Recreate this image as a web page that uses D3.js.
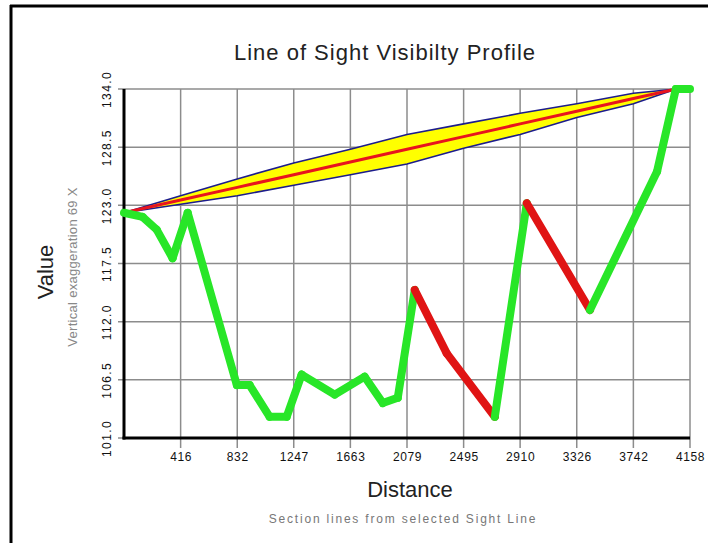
<!DOCTYPE html>
<html>
<head>
<meta charset="utf-8">
<script src="https://cdn.jsdelivr.net/npm/d3@7/dist/d3.min.js"></script>
<style>
  html, body { margin: 0; padding: 0; background: #fff; }
  svg { display: block; }
</style>
</head>
<body>
<svg id="chart" width="708" height="543"></svg>
<script>
// Tick labels
const xTickValues = [416, 832, 1247, 1663, 2079, 2495, 2910, 3326, 3742, 4158];
const yTickValues = [101.0, 106.5, 112.0, 117.5, 123.0, 128.5, 134.0];

// Ground profile along the sight line (distance, elevation)
const terrainDist = [0, 137, 240, 357, 468, 829, 923, 1070, 1195, 1305, 1548, 1768, 1901, 2011, 2136, 2371, 2724, 2959, 3423, 3916, 4054, 4158];
const terrainElev = [122.3, 121.9, 120.7, 118.0, 122.3, 106.0, 106.0, 103.0, 103.0, 107.0, 105.1, 106.8, 104.3, 104.8, 115.0, 109.0, 103.0, 123.2, 113.1, 126.2, 134.0, 134.0];
// Whether each segment (point i to i+1) is visible from the observer
const segmentVisible = [true, true, true, true, true, true, true, true, true, true, true, true, true, true, false, false, true, false, true, true, true];

// Sight line and its tolerance band
const sightDist  = [0, 416, 832, 1247, 1663, 2079, 2495, 2910, 3326, 3742, 4058];
const sightElev  = [122.3, 123.5, 124.7, 125.9, 127.1, 128.3, 129.5, 130.7, 131.9, 133.1, 134.0];
const sightUpper = [122.3, 123.9, 125.5, 127.0, 128.3, 129.7, 130.7, 131.7, 132.6, 133.6, 134.0];
const sightLower = [122.3, 123.1, 123.9, 124.9, 125.9, 126.9, 128.4, 129.7, 131.3, 132.6, 134.0];

const svg = d3.select("#chart");
const W = 708, H = 543;
const plot = { left: 124, right: 690, top: 89, bottom: 438 };
const FONT = "Liberation Sans, Arial, sans-serif";

const x = d3.scaleLinear().domain([0, 4158]).range([plot.left, plot.right]);
const y = d3.scaleLinear().domain([101, 134]).range([plot.bottom, plot.top]);

// Window frame (left and top edges)
svg.append("line").attr("x1", 11).attr("x2", 11).attr("y1", 5).attr("y2", H)
  .attr("stroke", "#000").attr("stroke-width", 3);
svg.append("line").attr("x1", 10).attr("x2", W).attr("y1", 6).attr("y2", 6)
  .attr("stroke", "#000").attr("stroke-width", 3);

// Title
svg.append("text").attr("x", 385).attr("y", 60).attr("text-anchor", "middle")
  .attr("font-family", FONT).attr("font-size", 22).attr("letter-spacing", 1)
  .attr("fill", "#222").text("Line of Sight Visibilty Profile");

// Grid
const grid = svg.append("g").attr("stroke", "#8c8c8c").attr("stroke-width", 1.5);
grid.selectAll("line.v").data(xTickValues).join("line")
  .attr("x1", d => x(d)).attr("x2", d => x(d))
  .attr("y1", plot.top).attr("y2", plot.bottom + 10);
grid.selectAll("line.h").data(yTickValues).join("line")
  .attr("x1", plot.left - 6).attr("x2", plot.right)
  .attr("y1", d => y(d)).attr("y2", d => y(d));

// Axes
const xAxis = d3.axisBottom(x).tickValues(xTickValues).tickSize(0).tickPadding(14)
  .tickFormat(d => String(d));
const gx = svg.append("g").attr("transform", `translate(0,${plot.bottom})`).call(xAxis);
gx.select(".domain").remove();
gx.selectAll("text").attr("font-family", FONT)
  .attr("font-size", 12).attr("letter-spacing", 0.6).attr("fill", "#111");

const yAxis = d3.axisLeft(y).tickValues(yTickValues).tickSize(0).tickFormat(d3.format(".1f"));
const gy = svg.append("g").attr("transform", `translate(${plot.left},0)`).call(yAxis);
gy.select(".domain").remove();
gy.selectAll("text")
  .attr("font-family", FONT).attr("font-size", 12).attr("letter-spacing", 1.4)
  .attr("fill", "#111").attr("text-anchor", "middle")
  .attr("x", 0).attr("dy", 0)
  .attr("transform", "translate(-17,0) rotate(-90)")
  .attr("dominant-baseline", "central");

// Axis lines
svg.append("line").attr("x1", plot.left).attr("x2", plot.left)
  .attr("y1", plot.top).attr("y2", plot.bottom + 1.5).attr("stroke", "#000").attr("stroke-width", 3);
svg.append("line").attr("x1", plot.left - 1.5).attr("x2", plot.right)
  .attr("y1", plot.bottom).attr("y2", plot.bottom).attr("stroke", "#000").attr("stroke-width", 3);

// Tolerance band
const bandIdx = d3.range(sightDist.length);
svg.append("path").datum(bandIdx)
  .attr("d", d3.area().x(i => x(sightDist[i])).y0(i => y(sightLower[i])).y1(i => y(sightUpper[i])))
  .attr("fill", "#ffff00");
[sightUpper, sightLower].forEach(arr => {
  svg.append("path").datum(bandIdx)
    .attr("d", d3.line().x(i => x(sightDist[i])).y(i => y(arr[i])))
    .attr("fill", "none").attr("stroke", "#1c1c8c").attr("stroke-width", 1.6);
});
svg.append("path").datum(bandIdx)
  .attr("d", d3.line().x(i => x(sightDist[i])).y(i => y(sightElev[i])))
  .attr("fill", "none").attr("stroke", "#e8141e").attr("stroke-width", 3);

// Ground profile, coloured by visibility
const segs = d3.range(terrainDist.length - 1);
svg.append("g").selectAll("line").data(segs).join("line")
  .attr("x1", i => x(terrainDist[i])).attr("y1", i => y(terrainElev[i]))
  .attr("x2", i => x(terrainDist[i + 1])).attr("y2", i => y(terrainElev[i + 1]))
  .attr("stroke", i => segmentVisible[i] ? "#28e628" : "#e01414")
  .attr("stroke-width", 8).attr("stroke-linecap", "round");

// Axis titles
svg.append("text").attr("x", 410).attr("y", 497).attr("text-anchor", "middle")
  .attr("font-family", FONT).attr("font-size", 22)
  .attr("fill", "#222").text("Distance");
svg.append("text").attr("x", 403).attr("y", 523).attr("text-anchor", "middle")
  .attr("font-family", FONT).attr("font-size", 12)
  .attr("letter-spacing", 1.8).attr("fill", "#777").text("Section lines from selected Sight Line");

svg.append("text").attr("transform", "translate(53,272) rotate(-90)").attr("text-anchor", "middle")
  .attr("font-family", FONT).attr("font-size", 22)
  .attr("fill", "#222").text("Value");
svg.append("text").attr("transform", "translate(77,267) rotate(-90)").attr("text-anchor", "middle")
  .attr("font-family", FONT).attr("font-size", 13).attr("letter-spacing", 0.3)
  .attr("fill", "#888").text("Vertical exaggeration 69 X");
</script>
</body>
</html>
